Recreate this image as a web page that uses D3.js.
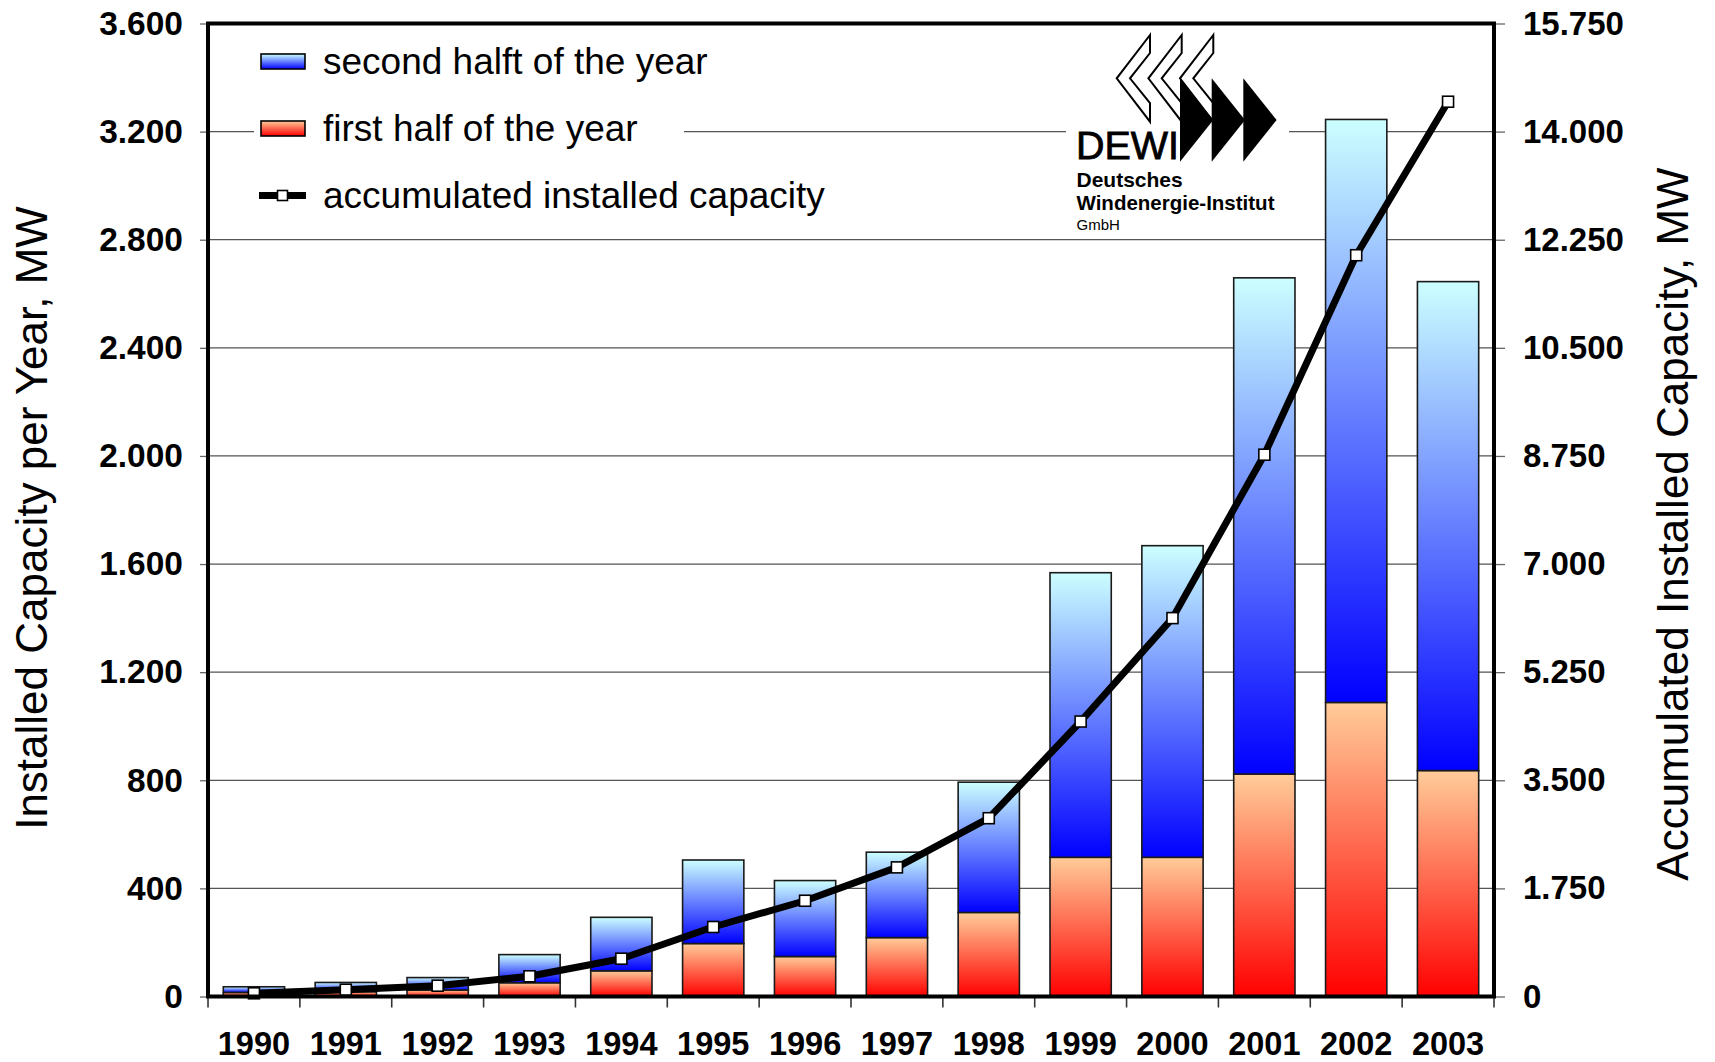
<!DOCTYPE html>
<html>
<head>
<meta charset="utf-8">
<script src="https://cdn.jsdelivr.net/npm/d3@7"></script>
<style>
  html, body { margin: 0; padding: 0; background: #fff; }
  svg { display: block; }
  text { font-family: "Liberation Sans", Arial, Helvetica, sans-serif; fill: #000; }
</style>
</head>
<body>
<svg id="chart" width="1715" height="1062"></svg>
<script>
// Annual wind power installations in Germany (MW), split by half-year,
// with the accumulated installed capacity on the secondary axis.
const years = [1990, 1991, 1992, 1993, 1994, 1995, 1996, 1997, 1998, 1999, 2000, 2001, 2002, 2003];
const firstHalf  = [15, 18, 24, 51, 95, 196, 148, 218, 311, 515, 515, 823, 1088, 836];
const secondHalf = [21, 34, 46, 104, 198, 309, 281, 316, 482, 1053, 1153, 1836, 2157, 1809];
const accumulated = [52, 110, 175, 327, 612, 1125, 1550, 2090, 2886, 4451, 6125, 8770, 11999, 14484];

const leftTicks  = [0, 400, 800, 1200, 1600, 2000, 2400, 2800, 3200, 3600];
const rightTicks = [0, 1750, 3500, 5250, 7000, 8750, 10500, 12250, 14000, 15750];

const legendLabels = ["second halft of the year", "first half of the year", "accumulated installed capacity"];
const leftTitle  = "Installed Capacity per Year, MW";
const rightTitle = "Accumulated Installed Capacity, MW";

const svg = d3.select("#chart");

const plot = { left: 208, right: 1494, top: 23.5, bottom: 996.5 };

const x = d3.scaleBand()
  .domain(years)
  .range([plot.left, plot.right])
  .paddingInner(0.333)
  .paddingOuter(0.1667);

const y = d3.scaleLinear().domain([0, 3600]).range([plot.bottom, plot.top]);
const yR = d3.scaleLinear().domain([0, 15750]).range([plot.bottom, plot.top]);

// German number style: "." as thousands separator
const de = d3.formatLocale({ decimal: ",", thousands: ".", grouping: [3], currency: ["", "€"] });
const fmt = de.format(",d");

// gradients, one per segment box
const defs = svg.append("defs");
function vGrad(id, top, bottom) {
  const g = defs.append("linearGradient").attr("id", id)
    .attr("x1", 0).attr("y1", 0).attr("x2", 0).attr("y2", 1);
  g.append("stop").attr("offset", "0%").attr("stop-color", top);
  g.append("stop").attr("offset", "100%").attr("stop-color", bottom);
}
vGrad("gradBlue", "#ccffff", "#0000ff");
vGrad("gradRed", "#ffcc99", "#ff0000");

// gridlines
svg.append("g").selectAll("line")
  .data(leftTicks.filter(d => d > 0 && d < 3600))
  .join("line")
  .attr("x1", plot.left).attr("x2", plot.right)
  .attr("y1", d => y(d)).attr("y2", d => y(d))
  .attr("stroke", "#555").attr("stroke-width", 1.3);

// legend background
svg.append("rect")
  .attr("x", 254).attr("y", 35).attr("width", 430).attr("height", 190)
  .attr("fill", "#fff");

// logo background
svg.append("rect")
  .attr("x", 1066).attr("y", 28).attr("width", 223).attr("height", 208)
  .attr("fill", "#fff");

// bars
const barG = svg.append("g");
years.forEach((yr, i) => {
  const f = firstHalf[i], s = secondHalf[i];
  barG.append("rect")
    .attr("x", x(yr)).attr("width", x.bandwidth())
    .attr("y", y(f)).attr("height", y(0) - y(f))
    .attr("fill", "url(#gradRed)")
    .attr("stroke", "#1a1a1a").attr("stroke-width", 1.6);
  barG.append("rect")
    .attr("x", x(yr)).attr("width", x.bandwidth())
    .attr("y", y(f + s)).attr("height", y(f) - y(f + s))
    .attr("fill", "url(#gradBlue)")
    .attr("stroke", "#1a1a1a").attr("stroke-width", 1.6);
});

// accumulated capacity line
const cx = d => x(d) + x.bandwidth() / 2;
const line = d3.line().x(d => cx(d[0])).y(d => yR(d[1]));
const pts = years.map((yr, i) => [yr, accumulated[i]]);
svg.append("path")
  .datum(pts)
  .attr("d", line)
  .attr("fill", "none")
  .attr("stroke", "#000").attr("stroke-width", 7)
  .attr("stroke-linejoin", "round");
svg.append("g").selectAll("rect")
  .data(pts).join("rect")
  .attr("x", d => cx(d[0]) - 5.5).attr("y", d => yR(d[1]) - 5.5)
  .attr("width", 11).attr("height", 11)
  .attr("fill", "#fff").attr("stroke", "#000").attr("stroke-width", 1.6);

// axes
const tickFont = (g, size) => g.selectAll("text")
  .style("font-size", size + "px").style("font-weight", "bold")
  .style("font-family", "'Liberation Sans', Arial, sans-serif").attr("fill", "#000");

const leftAxis = svg.append("g")
  .attr("transform", `translate(${plot.left},0)`)
  .call(d3.axisLeft(y).tickValues(leftTicks).tickSize(8).tickPadding(17).tickFormat(fmt));
leftAxis.select(".domain").remove();
leftAxis.selectAll("line").attr("stroke", "#666").attr("stroke-width", 1.3);
tickFont(leftAxis, 33.5);

const rightAxis = svg.append("g")
  .attr("transform", `translate(${plot.right},0)`)
  .call(d3.axisRight(yR).tickValues(rightTicks).tickSize(11).tickPadding(18).tickFormat(fmt));
rightAxis.select(".domain").remove();
rightAxis.selectAll("line").attr("stroke", "#666").attr("stroke-width", 1.3);
tickFont(rightAxis, 33);

const bottomAxis = svg.append("g")
  .attr("transform", `translate(0,${plot.bottom})`)
  .call(d3.axisBottom(x).tickSize(0).tickPadding(35.5));
bottomAxis.select(".domain").remove();
tickFont(bottomAxis, 32.5);

// category separator ticks below the baseline
const edge = (x.step() - x.bandwidth()) / 2;
const sepX = years.map(yr => x(yr) - edge).concat([x(years[years.length - 1]) + x.bandwidth() + edge]);
svg.append("g").selectAll("line")
  .data(sepX).join("line")
  .attr("x1", d => d).attr("x2", d => d)
  .attr("y1", plot.bottom).attr("y2", plot.bottom + 11)
  .attr("stroke", "#333").attr("stroke-width", 1.6);

// plot frame
svg.append("rect")
  .attr("x", plot.left).attr("y", plot.top)
  .attr("width", plot.right - plot.left).attr("height", plot.bottom - plot.top)
  .attr("fill", "none").attr("stroke", "#000").attr("stroke-width", 4);

// axis titles
svg.append("text")
  .attr("transform", `translate(47,${(plot.top + plot.bottom) / 2 + 8}) rotate(-90)`)
  .attr("text-anchor", "middle")
  .style("font-size", "44px")
  .text(leftTitle);
svg.append("text")
  .attr("transform", `translate(1688,${(plot.top + plot.bottom) / 2 + 14}) rotate(-90)`)
  .attr("text-anchor", "middle")
  .style("font-size", "44px")
  .text(rightTitle);

// legend
const legend = svg.append("g");
const rowY = [61.5, 128.5, 195.5];
legend.append("rect").attr("x", 261).attr("y", rowY[0] - 7.5).attr("width", 44).attr("height", 15)
  .attr("fill", "url(#gradBlue)").attr("stroke", "#000").attr("stroke-width", 1.6);
legend.append("rect").attr("x", 261).attr("y", rowY[1] - 7.5).attr("width", 44).attr("height", 15)
  .attr("fill", "url(#gradRed)").attr("stroke", "#000").attr("stroke-width", 1.6);
legend.append("line").attr("x1", 259).attr("x2", 306).attr("y1", rowY[2]).attr("y2", rowY[2])
  .attr("stroke", "#000").attr("stroke-width", 7);
legend.append("rect").attr("x", 282.5 - 5).attr("y", rowY[2] - 5).attr("width", 10).attr("height", 10)
  .attr("fill", "#fff").attr("stroke", "#000").attr("stroke-width", 1.6);
legend.selectAll("text.lab")
  .data(legendLabels).join("text")
  .attr("class", "lab")
  .attr("x", 323).attr("y", (d, i) => rowY[i] + 12)
  .style("font-size", "37px")
  .text(d => d);

// DEWI logo: hollow chevrons pointing left, solid arrowheads pointing right
const logo = svg.append("g");
const off = [0, 31.7, 63.3];
off.forEach(o => {
  logo.append("polygon")
    .attr("points", [[1150 + o, 35], [1116.7 + o, 78.3], [1150 + o, 121.7], [1150 + o, 103], [1130 + o, 78.3], [1150 + o, 53]].join(" "))
    .attr("fill", "#fff").attr("stroke", "#000").attr("stroke-width", 2);
});
off.forEach(o => {
  logo.append("polygon")
    .attr("points", [[1180 + o, 78.3], [1213.3 + o, 120], [1180 + o, 161.7]].join(" "))
    .attr("fill", "#000");
});
logo.append("text").attr("x", 1076).attr("y", 158.5)
  .attr("textLength", 103).attr("lengthAdjust", "spacingAndGlyphs")
  .style("font-size", "38px").style("font-weight", "normal")
  .style("stroke", "#000").style("stroke-width", 0.8)
  .text("DEWI");
logo.append("text").attr("x", 1076.5).attr("y", 186.5)
  .style("font-size", "21px").style("font-weight", "bold")
  .text("Deutsches");
logo.append("text").attr("x", 1076.5).attr("y", 209.5)
  .style("font-size", "20.5px").style("font-weight", "bold")
  .text("Windenergie-Institut");
logo.append("text").attr("x", 1076.5).attr("y", 230)
  .style("font-size", "15px")
  .text("GmbH");
</script>
</body>
</html>
